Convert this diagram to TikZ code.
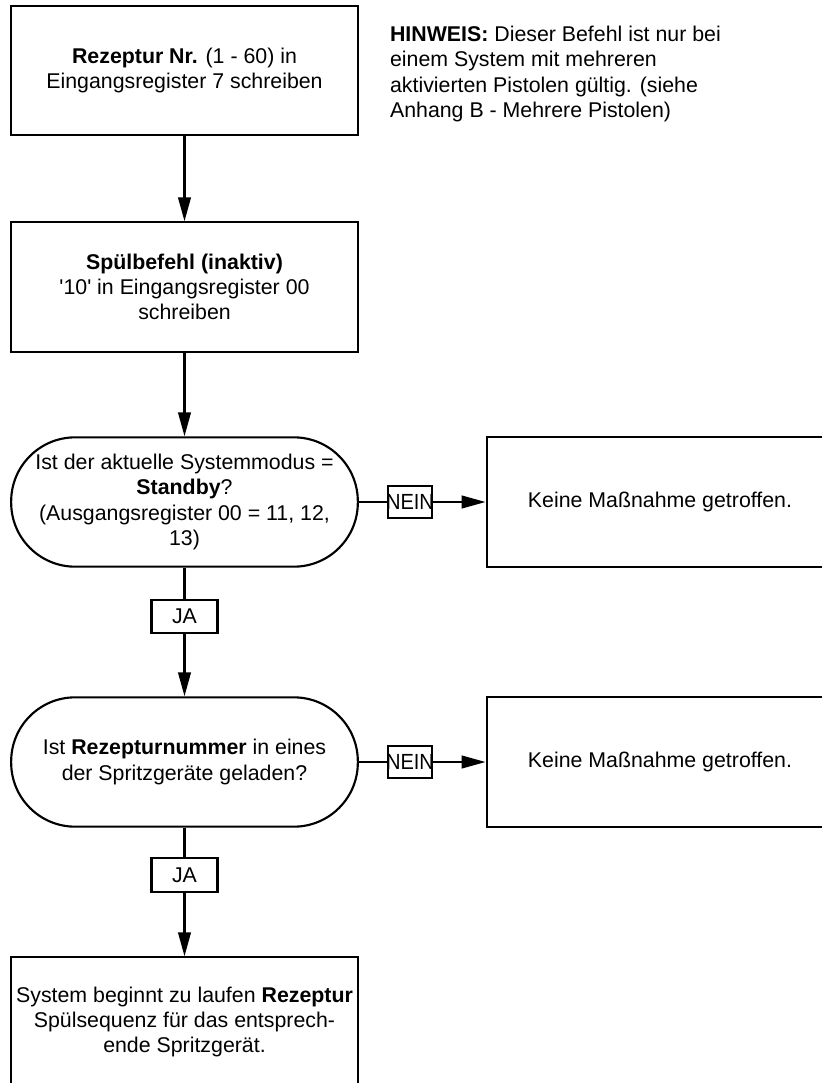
\documentclass[tikz,border=0pt]{standalone}
\usepackage{fontspec}
\setmainfont{Liberation Sans}
\usetikzlibrary{arrows.meta}

\begin{document}
\begin{tikzpicture}[x=0.75pt, y=-0.75pt, line width=1.6pt, >={Triangle[length=18pt,width=9.5pt]},
    box/.style={draw, minimum width=260pt, minimum height=97pt, align=center, inner sep=1pt, font=\fontsize{16}{19}\selectfont},
    term/.style={box, rounded corners=48pt},
    tag/.style={draw, inner sep=0pt, minimum width=49.5pt, minimum height=25pt, font=\fontsize{16}{19}\selectfont}]
    \useasboundingbox (0,0) rectangle (822,1083);
    \clip (0,0) rectangle (822,1083);
    % main column
    \node[box] (rez) at (184.5,70.5) {\textbf{Rezeptur Nr.} (1 - 60) in\\Eingangsregister 7 schreiben};
    \node[box] (spuel) at (184.5,287) {\textbf{Spülbefehl (inaktiv)}\\\textquotesingle10\textquotesingle{} in Eingangsregister 00\\schreiben};
    \node[term] (modus) at (184.5,502) {Ist der aktuelle Systemmodus =\\\textbf{Standby}?\\(Ausgangsregister 00 = 11, 12,\\13)};
    \node[tag] (ja1) at (184.5,616.5) {JA};
    \node[term] (nummer) at (184.5,762) {Ist \textbf{Rezepturnummer} in eines\\der Spritzgeräte geladen?};
    \node[tag] (ja2) at (184.5,875) {JA};
    \node[box] (start) at (184.5,1022) {System beginnt zu laufen \textbf{Rezeptur}\\Spülsequenz für das entsprech-\\ende Spritzgerät.};
    % NEIN branches
    \node[tag, minimum width=33pt, minimum height=24pt] (nein1) at (410,502) {\makebox[33pt]{\resizebox{36pt}{11.3pt}{NEIN}}};
    \node[box] (keine1) at (660,502) {Keine Maßnahme getroffen.};
    \node[tag, minimum width=33pt, minimum height=24pt] (nein2) at (410,762) {\makebox[33pt]{\resizebox{36pt}{11.3pt}{NEIN}}};
    \node[box] (keine2) at (660,762) {Keine Maßnahme getroffen.};
    % note
    \node[anchor=north west, inner sep=0pt, align=left, font=\fontsize{16}{19}\selectfont] (hinweis) at (389,25)
        {\textbf{HINWEIS:} Dieser Befehl ist nur bei\\einem System mit mehreren\\aktivierten Pistolen gültig. (siehe\\Anhang B - Mehrere Pistolen)};

    \draw[->] (rez) -- (spuel);
    \draw[->] (spuel) -- (modus);
    \draw (modus) -- (ja1);
    \draw[->] (ja1) -- (nummer);
    \draw (nummer) -- (ja2);
    \draw[->] (ja2) -- (start);
    \draw (modus) -- (nein1);
    \draw[->] (nein1) -- (keine1);
    \draw (nummer) -- (nein2);
    \draw[->] (nein2) -- (keine2);
\end{tikzpicture}
\end{document}
